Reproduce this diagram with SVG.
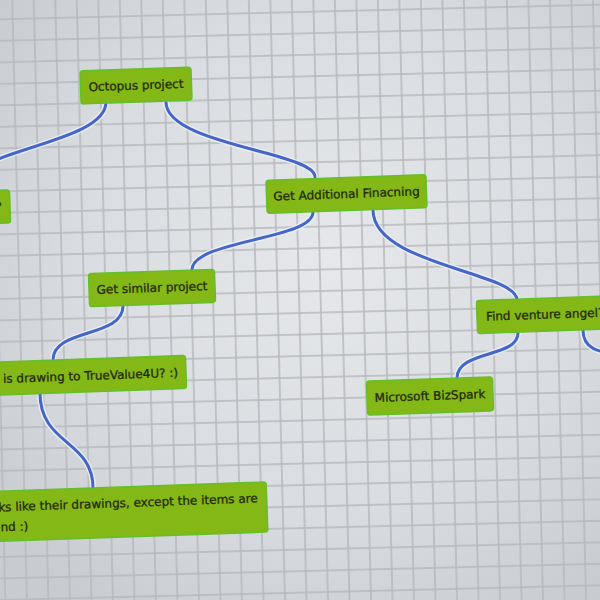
<svg xmlns="http://www.w3.org/2000/svg" width="600" height="600" viewBox="0 0 600 600">
<defs>
<radialGradient id="bg" cx="330" cy="260" r="420" gradientUnits="userSpaceOnUse">
<stop offset="0" stop-color="#e6e8eb"/>
<stop offset="0.6" stop-color="#d9dce0"/>
<stop offset="1" stop-color="#c8ccd1"/>
</radialGradient>
<pattern id="grid" width="21.5" height="21.5" patternUnits="userSpaceOnUse" patternTransform="translate(12.7,19) rotate(-1.4)">
<path d="M0,0 H21.5 M0,0 V21.5 M0,21.5 H21.5 M21.5,0 V21.5" fill="none" stroke="#b6b8bc" stroke-width="1.5"/>
</pattern>
<style>
.node rect{fill:#84b817;stroke:#63bf2a;stroke-width:1.5}
.node text{font-family:"DejaVu Sans",Verdana,sans-serif;font-size:12px;fill:#242808;stroke:#242808;stroke-width:0.3}
.halo{fill:none;stroke:#eef0f3;stroke-width:6;stroke-linecap:round;opacity:0.85}
.wire{fill:none;stroke:#4466c8;stroke-width:3;stroke-linecap:round}
</style>
</defs>
<rect width="600" height="600" fill="url(#bg)"/>
<rect width="600" height="600" fill="url(#grid)"/>
<g id="connectors">
<g class="halo-set">
<path class="halo" d="M106,102 C106,145 -40,150 -40,190"/>
<path class="halo" d="M166,102 C166,145 315,152 315,177"/>
<path class="halo" d="M313,212 C313,240 192,240 192,270"/>
<path class="halo" d="M373,210 C373,265 517,272 517,300"/>
<path class="halo" d="M123,306 C123,338 53,328 53,360"/>
<path class="halo" d="M40,393 C40,445 93,440 93,488"/>
<path class="halo" d="M518,333 C518,358 457,350 457,378"/>
<path class="halo" d="M583,330 C583,350 600,352 620,355"/>
</g>
<path class="wire" d="M106,102 C106,145 -40,150 -40,190"/>
<path class="wire" d="M166,102 C166,145 315,152 315,177"/>
<path class="wire" d="M313,212 C313,240 192,240 192,270"/>
<path class="wire" d="M373,210 C373,265 517,272 517,300"/>
<path class="wire" d="M123,306 C123,338 53,328 53,360"/>
<path class="wire" d="M40,393 C40,445 93,440 93,488"/>
<path class="wire" d="M518,333 C518,358 457,350 457,378"/>
<path class="wire" d="M583,330 C583,350 600,352 620,355"/>
</g>
<g id="node-octopus" class="node" transform="rotate(-2,136,85.5)">
<rect x="80.5" y="69" width="111" height="33" rx="3"/>
<text x="136" y="89.5" text-anchor="middle">Octopus project</text>
</g>
<g id="node-left" class="node" transform="rotate(-2,10,206.5)">
<rect x="-120" y="190" width="130" height="33" rx="3"/>
<text x="2" y="210.5" text-anchor="end">?</text>
</g>
<g id="node-financing" class="node" transform="rotate(-2,346.5,194)">
<rect x="266.5" y="177.5" width="160" height="33" rx="3"/>
<text x="346.5" y="198" text-anchor="middle">Get Additional Finacning</text>
</g>
<g id="node-similar" class="node" transform="rotate(-2,152,288)">
<rect x="89" y="271.5" width="126" height="33" rx="3"/>
<text x="152" y="292" text-anchor="middle">Get similar project</text>
</g>
<g id="node-truevalue" class="node" transform="rotate(-2,186,372)">
<rect x="-60" y="355.5" width="246" height="33" rx="3"/>
<text x="178" y="376.5" text-anchor="end">is drawing to TrueValue4U? :)</text>
</g>
<g id="node-drawings" class="node" transform="rotate(-2,267,507)">
<rect x="-40" y="482" width="307" height="50" rx="3"/>
<text x="258" y="502" text-anchor="end">ks like their drawings, except the items are</text>
<text x="0" y="522">nd :)</text>
</g>
<g id="node-venture" class="node" transform="rotate(-2,477,317)">
<rect x="477" y="300.5" width="160" height="33" rx="3"/>
<text x="486" y="321">Find venture angel?</text>
</g>
<g id="node-bizspark" class="node" transform="rotate(-2,430,396)">
<rect x="367" y="379" width="126" height="34" rx="3"/>
<text x="430" y="400" text-anchor="middle">Microsoft BizSpark</text>
</g>
</svg>
